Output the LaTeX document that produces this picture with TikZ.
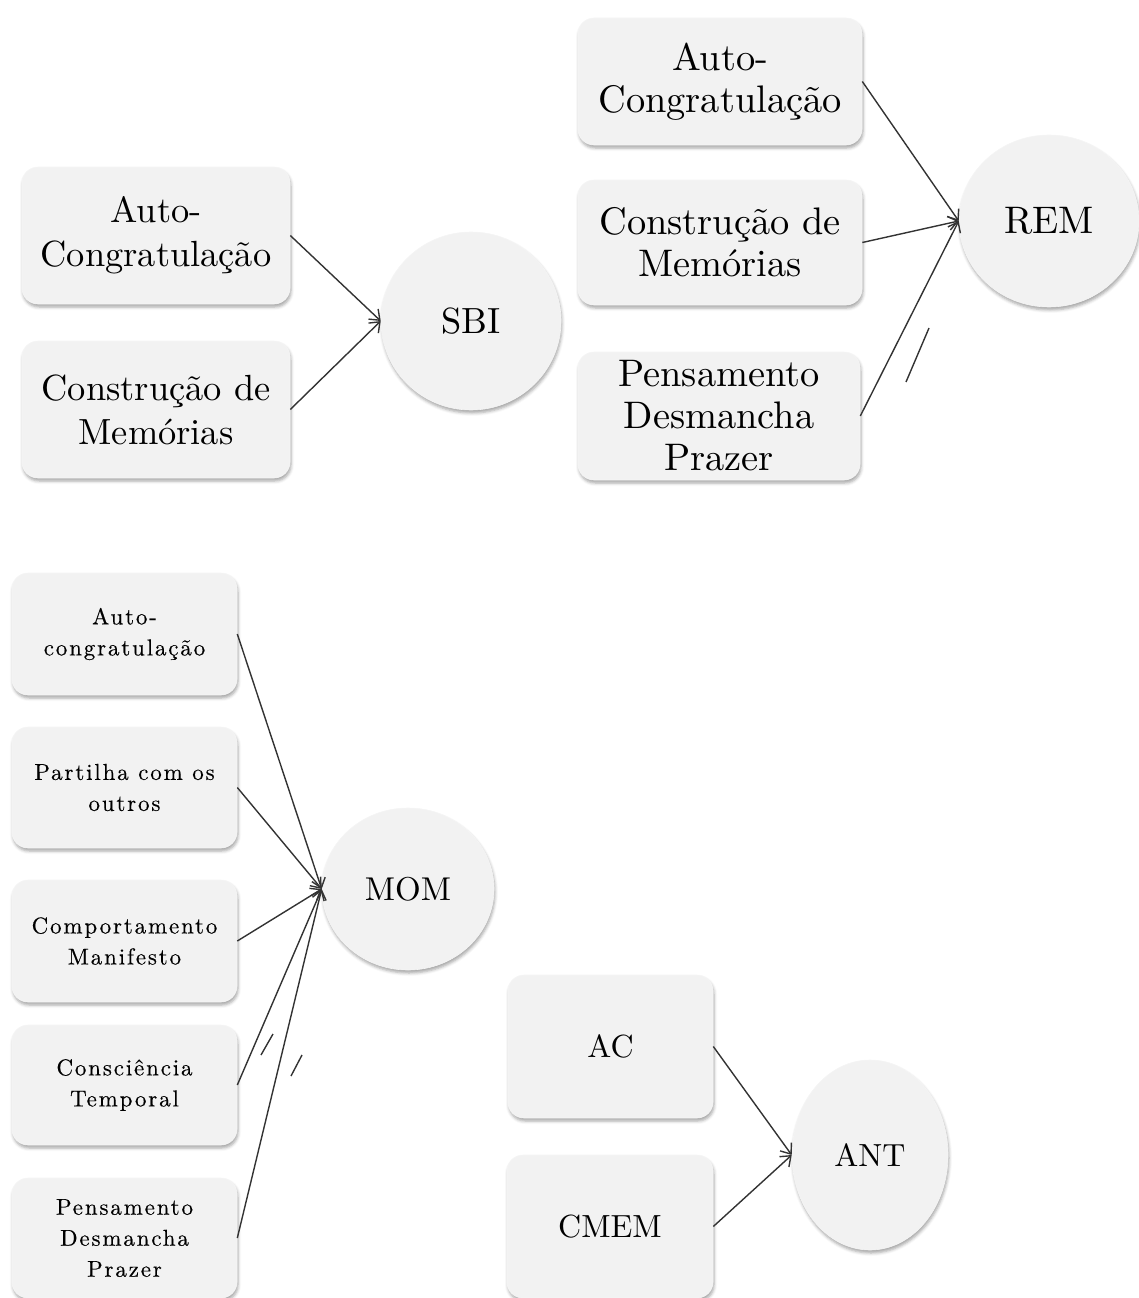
\documentclass[tikz,border=0pt]{standalone}
\usepackage{fontspec}
\setmainfont{lmroman10-regular.otf}
\newfontfamily\momfont{lmroman10-regular.otf}[LetterSpace=8,FakeBold=0.3]
\usetikzlibrary{arrows.meta,shadows.blur,shapes.geometric}
\definecolor{boxfill}{HTML}{F2F2F2}
\definecolor{linec}{HTML}{333333}
\begin{document}
\begin{tikzpicture}[x=1pt,y=-1pt,
  sh/.style={blur shadow={shadow xshift=1pt,shadow yshift=-3pt,shadow blur radius=3pt,shadow opacity=35}},
  box/.style={rounded corners=16pt, fill=boxfill, draw=white!96!black, line width=0.6pt, sh, align=center, inner sep=0pt},
  bubble/.style={ellipse, fill=boxfill, draw=white!96!black, line width=0.6pt, sh, inner sep=0pt},
  arr/.style={draw=linec, line width=1.4pt, -{Straight Barb[length=9pt,width=14pt]}},
  slash/.style={draw=linec, line width=1.4pt},
  fsbi/.style={font=\fontsize{36.4}{44}\selectfont},
  frem/.style={font=\fontsize{38.4}{42}\selectfont},
  fmom/.style={font=\momfont\fontsize{23}{31}\selectfont},
  fmomc/.style={font=\fontsize{33}{40}\selectfont},
  fant/.style={font=\fontsize{32}{38}\selectfont}
]
\useasboundingbox (0,0) rectangle (1139,1298);

% ---------- SBI ----------
\node[box, fsbi, minimum width=268pt, minimum height=137pt] (s1) at (156,235.5) {Auto-\\Congratulação};
\node[box, fsbi, minimum width=268pt, minimum height=137pt] (s2) at (156,409.5) {Construção de\\Memórias};
\node[bubble, fsbi, minimum width=180pt, minimum height=178pt] (sbi) at (471,321) {SBI};
\draw[arr] (s1.east) -- (sbi.west);
\draw[arr] (s2.east) -- (sbi.west);

% ---------- REM ----------
\node[box, frem, minimum width=284pt, minimum height=127pt] (r1) at (720,81.5) {Auto-\\Congratulação};
\node[box, frem, minimum width=284pt, minimum height=125pt] (r2) at (720,242.5) {Construção de\\Memórias};
\node[box, frem, minimum width=282pt, minimum height=128pt] (r3) at (719,416) {Pensamento\\Desmancha\\Prazer};
\node[bubble, frem, minimum width=180pt, minimum height=172pt] (rem) at (1049,221) {REM};
\draw[arr] (r1.east) -- (rem.west);
\draw[arr] (r2.east) -- (rem.west);
\draw[arr] (r3.east) -- (rem.west);
\draw[slash] (906,382) -- (929,328);

% ---------- MOM ----------
\node[box, fmom, minimum width=225pt, minimum height=122pt] (m1) at (124.5,634) {Auto-\\congratulação};
\node[box, fmom, minimum width=225pt, minimum height=121pt] (m2) at (124.5,787.5) {Partilha com os\\outros};
\node[box, fmom, minimum width=225pt, minimum height=122pt] (m3) at (124.5,941) {Comportamento\\Manifesto};
\node[box, fmom, minimum width=225pt, minimum height=120pt] (m4) at (124.5,1085) {Consciência\\Temporal};
\node[box, fmom, minimum width=225pt, minimum height=120pt] (m5) at (124.5,1238) {Pensamento\\Desmancha\\Prazer};
\node[bubble, fmomc, minimum width=172pt, minimum height=162pt] (mom) at (408,889) {MOM};
\draw[arr] (m1.east) -- (mom.west);
\draw[arr] (m2.east) -- (mom.west);
\draw[arr] (m3.east) -- (mom.west);
\draw[arr] (m4.east) -- (mom.west);
\draw[arr] (m5.east) -- (mom.west);
\draw[slash] (261,1055) -- (273,1034);
\draw[slash] (291,1076) -- (302,1055);

% ---------- ANT ----------
\node[box, fant, minimum width=205pt, minimum height=143pt] (ac) at (610.5,1046.5) {AC};
\node[box, fant, minimum width=206pt, minimum height=143pt] (cm) at (610,1226.5) {CMEM};
\node[bubble, fant, minimum width=156pt, minimum height=190pt] (ant) at (870,1155) {ANT};
\draw[arr] (ac.east) -- (ant.west);
\draw[arr] (cm.east) -- (ant.west);
\end{tikzpicture}
\end{document}
